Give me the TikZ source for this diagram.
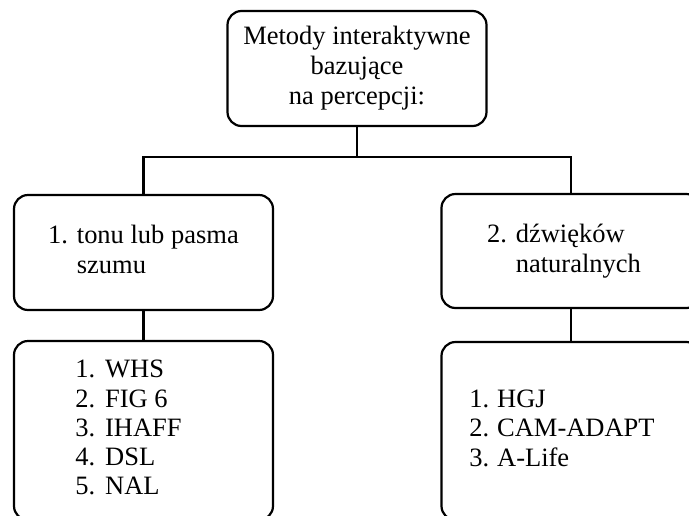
\documentclass[tikz,border=0pt]{standalone}
\usepackage{fontspec}
\setmainfont{Liberation Serif}
\begin{document}
\begin{tikzpicture}[x=1pt,y=-1pt,
   box/.style={draw, line width=2.2pt, rounded corners=14pt,
               minimum width=259pt, inner sep=0pt, align=center,
               font=\fontsize{26.5}{30}\selectfont},
   link/.style={line width=2.2pt}]

\useasboundingbox (0,0) rectangle (689,515);
\clip (0,0) rectangle (689,515);

\node[box, minimum height=115pt] (metody) at (357,68.5)
    {Metody interaktywne\\bazujące\\na percepcji:};

\node[box, minimum height=115pt] (tonu) at (143.5,252.5)
    {\begin{tabular}{@{}l@{ }l@{}}1.&tonu lub pasma\\&szumu\end{tabular}};
\node[box, minimum height=114pt] (dzwiek) at (571,251)
    {\begin{tabular}{@{}l@{ }l@{}}2.&dźwięków\\&naturalnych\end{tabular}\hspace*{14pt}};

\node[box, minimum height=179pt, font=\fontsize{26.5}{29.3}\selectfont] (listaA) at (143.5,430.5)
    {\begin{tabular}{@{}l@{\hspace{10pt}}l@{}}1.&WHS\\2.&FIG 6\\3.&IHAFF\\4.&DSL\\5.&NAL\end{tabular}\hspace*{30pt}};
\node[box, minimum height=178pt, font=\fontsize{26.5}{29.3}\selectfont] (listaB) at (571,431)
    {\begin{tabular}{@{}l@{\hspace{8pt}}l@{}}1.&HGJ\\2.&CAM-ADAPT\\3.&A-Life\end{tabular}\hspace*{18pt}};

\coordinate (split) at (357,157);
\draw[link] (metody.south) -- (split);
\draw[link] (tonu.north) |- (split) -| (dzwiek.north);
\draw[link] (tonu.south) -- (listaA.north);
\draw[link] (dzwiek.south) -- (listaB.north);

\end{tikzpicture}
\end{document}
